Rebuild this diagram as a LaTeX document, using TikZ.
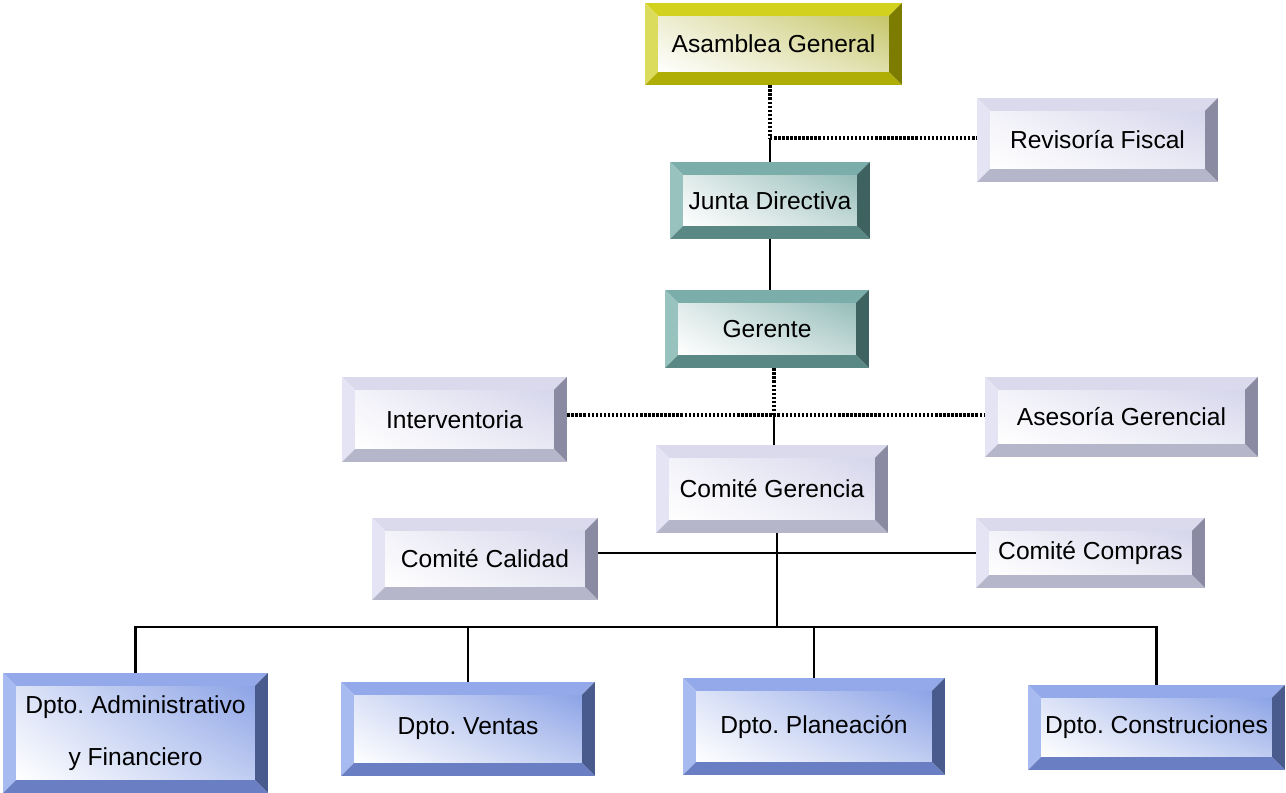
\documentclass[tikz,border=0pt]{standalone}
\usepackage{fontspec}
\setmainfont{Liberation Sans}
\usetikzlibrary{positioning,shadings}

% bevel colours: top, left, right, bottom, inner
\definecolor{yltop}{HTML}{D2D21E}\definecolor{ylleft}{HTML}{DCDC5C}\definecolor{ylright}{HTML}{7C7C00}\definecolor{ylbot}{HTML}{AEAE06}\definecolor{ylin}{HTML}{C6C66A}
\definecolor{tltop}{HTML}{7BAEAA}\definecolor{tlleft}{HTML}{98C2BE}\definecolor{tlright}{HTML}{3E625F}\definecolor{tlbot}{HTML}{5A8884}\definecolor{tlin}{HTML}{96BDB9}
\definecolor{lvtop}{HTML}{DADAEC}\definecolor{lvleft}{HTML}{E4E4F4}\definecolor{lvright}{HTML}{8A8AA2}\definecolor{lvbot}{HTML}{B6B6CA}\definecolor{lvin}{HTML}{D6D6EC}
\definecolor{bltop}{HTML}{93A9EA}\definecolor{blleft}{HTML}{A8BBF0}\definecolor{blright}{HTML}{495B8C}\definecolor{blbot}{HTML}{6A7FC3}\definecolor{blin}{HTML}{8CA3E6}

\frenchspacing
\def\bw{7.5pt}
\tikzset{
  box/.style={draw=none, fill=white, inner sep=0pt, align=center, font=\fontsize{14}{16}\selectfont},
  bevel/.style={box, path picture={
    \coordinate (bnw) at (path picture bounding box.north west);
    \coordinate (bne) at (path picture bounding box.north east);
    \coordinate (bsw) at (path picture bounding box.south west);
    \coordinate (bse) at (path picture bounding box.south east);
    \coordinate (inw) at ([shift={(\bw,-\bw)}]bnw);
    \coordinate (ine) at ([shift={(-\bw,-\bw)}]bne);
    \coordinate (isw) at ([shift={(\bw,\bw)}]bsw);
    \coordinate (ise) at ([shift={(-\bw,\bw)}]bse);
    \fill[#1top] (bnw) -- (bne) -- (ine) -- (inw) -- cycle;
    \fill[#1left] (bnw) -- (inw) -- (isw) -- (bsw) -- cycle;
    \fill[#1right] (bne) -- (ine) -- (ise) -- (bse) -- cycle;
    \fill[#1bot] (bsw) -- (isw) -- (ise) -- (bse) -- cycle;
    \shade[upper right=#1in, lower right=#1in!55!white, upper left=#1in!30!white, lower left=white] (isw) rectangle (ine);
  }},
  link/.style={line width=1.4pt},
  dotlink/.style={line width=2.2pt, dash pattern=on 1.4pt off 0.9pt},
}

\begin{document}
\begin{tikzpicture}[x=0.02cm, y=-0.02cm]
\useasboundingbox (0,0) rectangle (1286,793);

% boxes
\node[bevel=yl, minimum width=5.14cm, minimum height=1.64cm] (asamblea) at (773.5,44) {Asamblea General};
\node[bevel=lv, minimum width=4.82cm, minimum height=1.68cm] (revisoria) at (1097.5,140) {\raisebox{-4pt}{Revisoría Fiscal}};
\node[bevel=tl, minimum width=4.00cm, minimum height=1.54cm] (junta) at (770,200.5) {Junta Directiva};
\node[bevel=tl, minimum width=4.08cm, minimum height=1.56cm] (gerente) at (767,329) {Gerente};
\node[bevel=lv, minimum width=4.50cm, minimum height=1.70cm] (interv) at (454.5,419.5) {Interventoria};
\node[bevel=lv, minimum width=5.46cm, minimum height=1.60cm] (asesoria) at (1121.5,417) {Asesoría Gerencial};
\node[bevel=lv, minimum width=4.64cm, minimum height=1.76cm] (comiteg) at (772,489) {Comité Gerencia};
\node[bevel=lv, minimum width=4.52cm, minimum height=1.64cm] (calidad) at (485,559) {Comité Calidad};
\node[bevel=lv, minimum width=4.58cm, minimum height=1.40cm] (compras) at (1090.5,553) {Comité Compras};
\node[bevel=bl, minimum width=5.30cm, minimum height=2.40cm] (admin) at (135.5,733) {Dpto. Administrativo\\[14pt]y Financiero};
\node[bevel=bl, minimum width=5.08cm, minimum height=1.88cm] (ventas) at (468,729) {Dpto. Ventas};
\node[bevel=bl, minimum width=5.24cm, minimum height=1.94cm] (planeacion) at (814,726.5) {Dpto. Planeación};
\node[bevel=bl, minimum width=5.14cm, minimum height=1.70cm] (construc) at (1156.5,727.5) {Dpto. Construciones};

% junctions
\coordinate (j1) at (770,138);
\coordinate (j2) at (774,415);
\coordinate (j3) at (777,627);
\coordinate (j4) at (777,553);

% connectors
\draw[dotlink] (asamblea.south -| j1) -- (j1);
\draw[dotlink] (j1) -- (j1 -| revisoria.west);
\draw[link] (j1) -- (junta.north);
\draw[link] (junta.south) -- (junta.south |- gerente.north);
\draw[dotlink] (gerente.south -| j2) -- (j2);
\draw[dotlink] (j2 -| interv.east) -- (j2 -| asesoria.west);
\draw[link] (j2) -- (j2 |- comiteg.north);
\draw[link] (comiteg.south -| j3) -- (j3);
\draw[link] (j4 -| calidad.east) -- (j4 -| compras.west);
\draw[link] (admin.north) |- (j3) -| (construc.north);
\draw[link] (ventas.north) -- (ventas.north |- j3);
\draw[link] (planeacion.north) -- (planeacion.north |- j3);
\end{tikzpicture}
\end{document}
